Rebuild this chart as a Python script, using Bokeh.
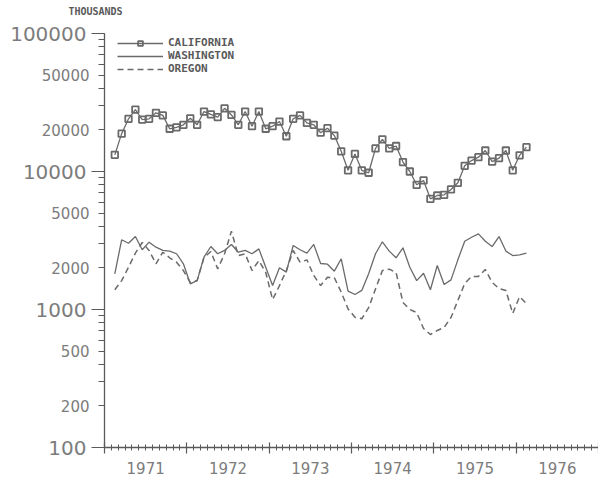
from bokeh.plotting import figure
from bokeh.models import FixedTicker, Legend, LegendItem, Label, Range1d
from bokeh.embed import file_html
from bokeh.resources import INLINE

# ---- data (monthly, Feb 1971 .. Feb 1976), thousands ----
month_index = list(range(1, 62))   # months after Jan 1971 (1 = Feb 1971)
california = [13200, 18800, 24100, 28100, 23800, 24100, 26600, 25500, 20400, 20900,
              21800, 24300, 21800, 27200, 25900, 24800, 28700, 25700, 21800, 27200,
              21300, 27200, 20400, 21300, 23000, 18000, 24100, 25500, 22500, 21800,
              19100, 20600, 18200, 14000, 10200, 13400, 10200, 9790, 14700, 17100,
              14700, 15300, 11700, 10000, 8010, 8610, 6340, 6700, 6780, 7410,
              8280, 11000, 12000, 12700, 14200, 11800, 12500, 14200, 10200, 13100, 15000]
washington = [1815, 3200, 3020, 3380, 2710, 3075, 2830, 2680, 2650, 2535,
              2145, 1535, 1620, 2395, 2860, 2535, 2680, 2960, 2600, 2680,
              2535, 2750, 2025, 1490, 2005, 1865, 2910, 2710, 2560, 2960,
              2155, 2130, 1895, 2330, 1360, 1285, 1375, 1815, 2535, 3095,
              2650, 2370, 2800, 2025, 1620, 1830, 1390, 2085, 1517, 1640,
              2290, 3125, 3340, 3535, 3125, 2860, 3380, 2650, 2460, 2490, 2560]
oregon = [1390, 1620, 2025, 2560, 3060, 2680, 2145, 2600, 2370, 2200,
          1915, 1570, 1620, 2380, 2630, 1970, 2535, 3690, 2460, 2535,
          1915, 2265, 1855, 1180, 1490, 1915, 2680, 2200, 2290, 1765,
          1490, 1715, 1700, 1335, 1010, 880, 857, 1030, 1410, 1915,
          1960, 1855, 1125, 1000, 950, 728, 659, 705, 741, 875,
          1162, 1543, 1735, 1735, 1950, 1570, 1420, 1375, 935, 1240, 1105]
series_names = ["CALIFORNIA", "WASHINGTON", "OREGON"]
years = ["1971", "1972", "1973", "1974", "1975", "1976"]
decade_ticks = [100, 1000, 10000, 100000]
mid_ticks = [200, 500, 2000, 5000, 20000, 50000]
y_title = "THOUSANDS"

INK = "#6a6a6a"
TXT = "#7c7c7c"
AX = "#5a5a5a"

# ---- layout (pixels) ----
W, H = 598, 478
AX_LEFT, AX_TOP, AX_BOTTOM = 104, 33, 447      # axis box inside the canvas
n_months = 12 * len(years)
px_month = (W - AX_LEFT) / n_months
y_lo, y_hi = min(decade_ticks), max(decade_ticks)
n_dec = 3.0
px_dec = (AX_BOTTOM - AX_TOP) / n_dec
x_start = -AX_LEFT / px_month
y_start = 10 ** (2 - (H - AX_BOTTOM) / px_dec)
y_end = 10 ** (5 + AX_TOP / px_dec)

x = [m + 0.5 for m in month_index]   # mid-month position

p = figure(width=W, height=H,
           x_range=Range1d(x_start, n_months), y_range=Range1d(y_start, y_end),
           y_axis_type="log", output_backend="svg", toolbar_location=None,
           min_border=0, min_border_left=0, min_border_top=0, min_border_right=0,
           min_border_bottom=0)
p.outline_line_color = None
p.xgrid.visible = False
p.ygrid.visible = False
p.background_fill_color = "white"
p.border_fill_color = "white"

# ---- series ----
r_ca_line = p.line(x, california, line_color=INK, line_width=1.3)
r_ca_pts = p.scatter(x, california, marker="square", size=6.5, fill_color="white",
                     fill_alpha=0.0, line_color=INK, line_width=1.8)
r_wa = p.line(x, washington, line_color=INK, line_width=1.3)
r_or = p.line(x, oregon, line_color=INK, line_width=1.5, line_dash="6 4")

legend = Legend(items=[LegendItem(label=series_names[0], renderers=[r_ca_line, r_ca_pts]),
                       LegendItem(label=series_names[1], renderers=[r_wa]),
                       LegendItem(label=series_names[2], renderers=[r_or])],
                location=(117, 403), orientation="vertical")
legend.label_text_font = "DejaVu Sans Mono"
legend.label_text_font_size = "11px"
legend.label_text_font_style = "bold"
legend.label_text_color = AX
legend.label_height = 12
legend.glyph_height = 12
legend.glyph_width = 46
legend.label_standoff = 5
legend.spacing = 0
legend.padding = 0
legend.margin = 0
legend.border_line_color = None
legend.background_fill_alpha = 0.0
p.add_layout(legend)

# ---- x axis: year boundaries + monthly ticks ----
xa = p.xaxis[0]
bounds = list(range(0, n_months + 1, 12))
xa.fixed_location = y_lo
xa.bounds = (0, n_months)
xa.ticker = FixedTicker(ticks=bounds, minor_ticks=list(range(0, n_months + 1)))
xa.major_label_overrides = {t: "" for t in bounds}
xa.major_label_standoff = 0
xa.major_tick_in = 5
xa.major_tick_out = 6
xa.minor_tick_in = 3
xa.minor_tick_out = 3
xa.axis_line_color = AX
xa.axis_line_width = 1.3
xa.major_tick_line_color = AX
xa.major_tick_line_width = 1.2
xa.minor_tick_line_color = AX
xa.minor_tick_line_width = 1.0

for i, yv in enumerate(years):
    p.add_layout(Label(x=12 * i + 6, y=y_lo, y_offset=-20, text=yv,
                       text_align="center", text_baseline="middle",
                       text_font="DejaVu Sans", text_font_size="15px", text_color=TXT))

# ---- y axis ----
ya = p.yaxis[0]
ya.fixed_location = 0
ya.bounds = (y_lo, y_hi)
minor = [k * 10 ** d for d in range(2, 5) for k in range(1, 10)] + [y_hi]
ya.ticker = FixedTicker(ticks=decade_ticks, minor_ticks=minor)
ya.major_label_overrides = {t: "" for t in decade_ticks}
ya.major_label_standoff = 0
ya.major_tick_in = 0
ya.major_tick_out = 13
ya.minor_tick_in = 0
ya.minor_tick_out = 6
ya.axis_line_color = AX
ya.axis_line_width = 1.3
ya.major_tick_line_color = AX
ya.major_tick_line_width = 1.2
ya.minor_tick_line_color = AX
ya.minor_tick_line_width = 1.0

for v in decade_ticks:
    p.add_layout(Label(x=0, y=v, x_offset=-18, text=str(v),
                       text_align="right", text_baseline="middle",
                       text_font="DejaVu Sans", text_font_size="20px", text_color=TXT))
for v in mid_ticks:
    p.add_layout(Label(x=0, y=v, x_offset=-15, text=str(v),
                       text_align="right", text_baseline="middle",
                       text_font="DejaVu Sans", text_font_size="15px", text_color=TXT))

p.add_layout(Label(x=0, y=y_hi, x_offset=-9, y_offset=22, text=y_title,
                   text_align="center", text_baseline="middle",
                   text_font="DejaVu Sans Mono", text_font_size="10px",
                   text_font_style="bold", text_color=AX))

open("out.html", "w").write(file_html(p, INLINE))
